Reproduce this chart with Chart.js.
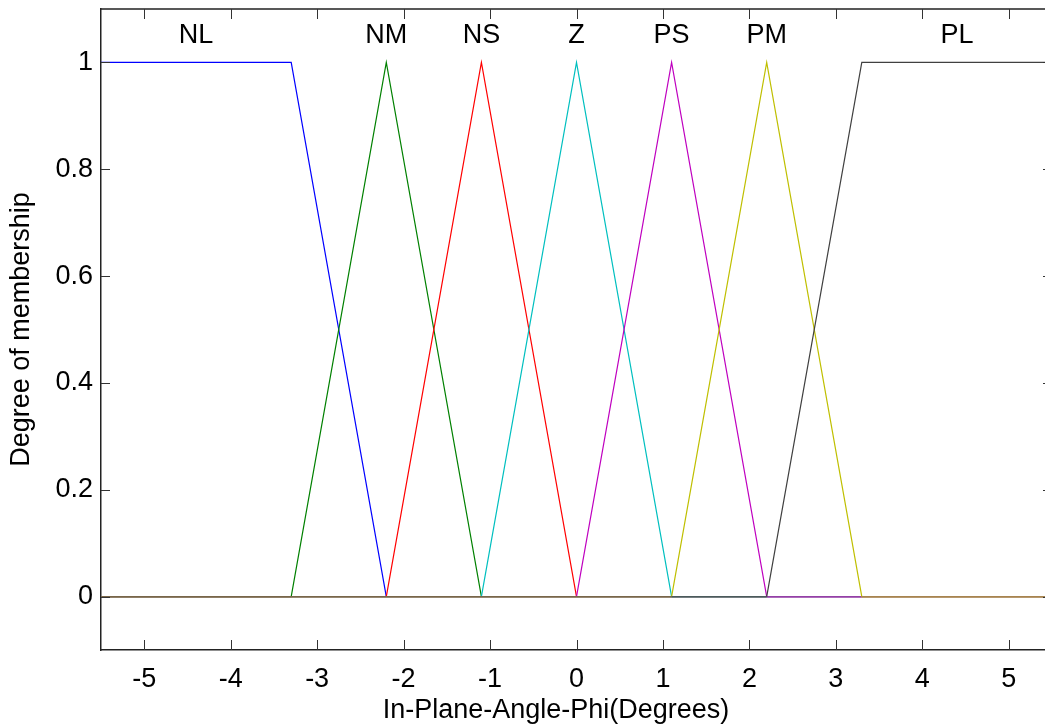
<!DOCTYPE html>
<html>
<head>
<meta charset="utf-8">
<title>Membership functions</title>
<script src="https://cdn.jsdelivr.net/npm/chart.js@4/dist/chart.umd.min.js"></script>
<style>
  html, body { margin: 0; padding: 0; background: #fff; overflow: hidden; }
  canvas { display: block; }
</style>
</head>
<body>
<canvas id="mfChart" width="1060" height="727"></canvas>
<script>
const chart = document.querySelector('#mfChart');

// sample points along the input range
const xPoints = [-5.5, -4.4, -3.3, -2.2, -1.1, 0, 1.1, 2.2, 3.3, 4.4, 5.5];

// membership value of each set at the sample points
const mfNL = [1, 1, 1, 0, 0, 0, 0, 0, 0, 0, 0];
const mfNM = [0, 0, 0, 1, 0, 0, 0, 0, 0, 0, 0];
const mfNS = [0, 0, 0, 0, 1, 0, 0, 0, 0, 0, 0];
const mfZ  = [0, 0, 0, 0, 0, 1, 0, 0, 0, 0, 0];
const mfPS = [0, 0, 0, 0, 0, 0, 1, 0, 0, 0, 0];
const mfPM = [0, 0, 0, 0, 0, 0, 0, 1, 0, 0, 0];
const mfPL = [0, 0, 0, 0, 0, 0, 0, 0, 1, 1, 1];

const setNames = ['NL', 'NM', 'NS', 'Z', 'PS', 'PM', 'PL'];
const setLabelX = [-4.4, -2.2, -1.1, 0, 1.1, 2.2, 4.4];
const setLabelY = 1.05;

const xTicks = [-5, -4, -3, -2, -1, 0, 1, 2, 3, 4, 5];
const yTicks = [0, 0.2, 0.4, 0.6, 0.8, 1];

const xTitle = 'In-Plane-Angle-Phi(Degrees)';
const yTitle = 'Degree of membership';

const FONT = '"Liberation Sans", Arial, Helvetica, sans-serif';
const FSIZE = 27;
const lineColors = ['#0000ff', '#008000', '#ff0000', '#00bfbf', '#bf00bf', '#bfbf00', '#404040'];

// where every set sits at zero the overlapping lines blend into one colour
function zeroColor(x) {
    if (x < 1.1) return '#786649';
    if (x < 2.2) return '#4b5a5b';
    if (x < 3.3) return '#9440a6';
    return '#a7844f';
}

function toPoints(values) {
    return xPoints.map((x, i) => ({ x: x, y: values[i] }));
}

const allSets = [mfNL, mfNM, mfNS, mfZ, mfPS, mfPM, mfPL];
const datasets = allSets.map((vals, i) => ({
    label: setNames[i],
    data: toPoints(vals),
    borderColor: lineColors[i],
    borderWidth: 1.2,
    pointRadius: 0,
    tension: 0,
    fill: false,
    order: allSets.length - i,
    segment: {
        borderColor: ctx => (ctx.p0.parsed.y === 0 && ctx.p1.parsed.y === 0)
            ? zeroColor(ctx.p0.parsed.x) : undefined
    }
}));

// inward ticks, top edge, set names and x title
const axesDecor = {
    id: 'axesDecor',
    afterDraw(c) {
        const ctx = c.ctx;
        const area = c.chartArea;
        const xs = c.scales.x;
        const ys = c.scales.y;
        ctx.save();
        ctx.strokeStyle = '#222';
        ctx.lineWidth = 1.5;
        ctx.beginPath();
        ctx.moveTo(area.left, area.top);
        ctx.lineTo(area.right, area.top);
        ctx.lineTo(area.right, area.bottom);
        ctx.stroke();

        ctx.lineWidth = 1;
        ctx.strokeStyle = '#333';
        ctx.beginPath();
        xTicks.forEach(v => {
            const px = Math.round(xs.getPixelForValue(v)) + 0.5;
            ctx.moveTo(px, area.bottom);
            ctx.lineTo(px, area.bottom - 10);
            ctx.moveTo(px, area.top);
            ctx.lineTo(px, area.top + 10);
        });
        yTicks.forEach(v => {
            const py = Math.round(ys.getPixelForValue(v)) + 0.5;
            ctx.moveTo(area.left, py);
            ctx.lineTo(area.left + 9, py);
            ctx.moveTo(area.right, py);
            ctx.lineTo(area.right - 9, py);
        });
        ctx.stroke();

        ctx.fillStyle = '#000';
        ctx.font = FSIZE + 'px ' + FONT;
        ctx.textAlign = 'center';
        ctx.textBaseline = 'middle';
        setNames.forEach((name, i) => {
            ctx.fillText(name, xs.getPixelForValue(setLabelX[i]), ys.getPixelForValue(setLabelY));
        });
        ctx.fillText(xTitle, 556, 711);
        ctx.restore();
    }
};

const myChart = new Chart(chart, {
    type: 'line',
    data: { datasets: datasets },
    options: {
        responsive: false,
        animation: false,
        layout: { padding: { top: 9, right: 8, left: 0, bottom: 0 } },
        plugins: {
            legend: { display: false },
            tooltip: { enabled: false }
        },
        scales: {
            x: {
                type: 'linear',
                min: -5.5,
                max: 5.5,
                afterBuildTicks: s => { s.ticks = xTicks.map(v => ({ value: v })); },
                afterFit: s => { s.height = 77; s.paddingLeft = 0; s.paddingRight = 0; },
                grid: { display: true, drawOnChartArea: false, drawTicks: false },
                border: { display: true, color: '#222', width: 1.5 },
                ticks: {
                    color: '#000',
                    padding: 13,
                    maxRotation: 0,
                    autoSkip: false,
                    font: { family: FONT, size: FSIZE },
                    callback: v => String(v)
                }
            },
            y: {
                type: 'linear',
                min: -0.1,
                max: 1.1,
                afterBuildTicks: s => { s.ticks = yTicks.map(v => ({ value: v })); },
                afterFit: s => { s.width = 101; s.paddingTop = 0; s.paddingBottom = 0; },
                grid: { display: true, drawOnChartArea: false, drawTicks: false },
                border: { display: true, color: '#222', width: 1.5 },
                ticks: {
                    color: '#000',
                    padding: 8,
                    autoSkip: false,
                    font: { family: FONT, size: FSIZE },
                    callback: v => String(v)
                },
                title: {
                    display: true,
                    text: yTitle,
                    color: '#000',
                    padding: { top: 8, bottom: 0 },
                    font: { family: FONT, size: FSIZE, lineHeight: 1 }
                }
            }
        }
    },
    plugins: [axesDecor]
});
</script>
</body>
</html>
